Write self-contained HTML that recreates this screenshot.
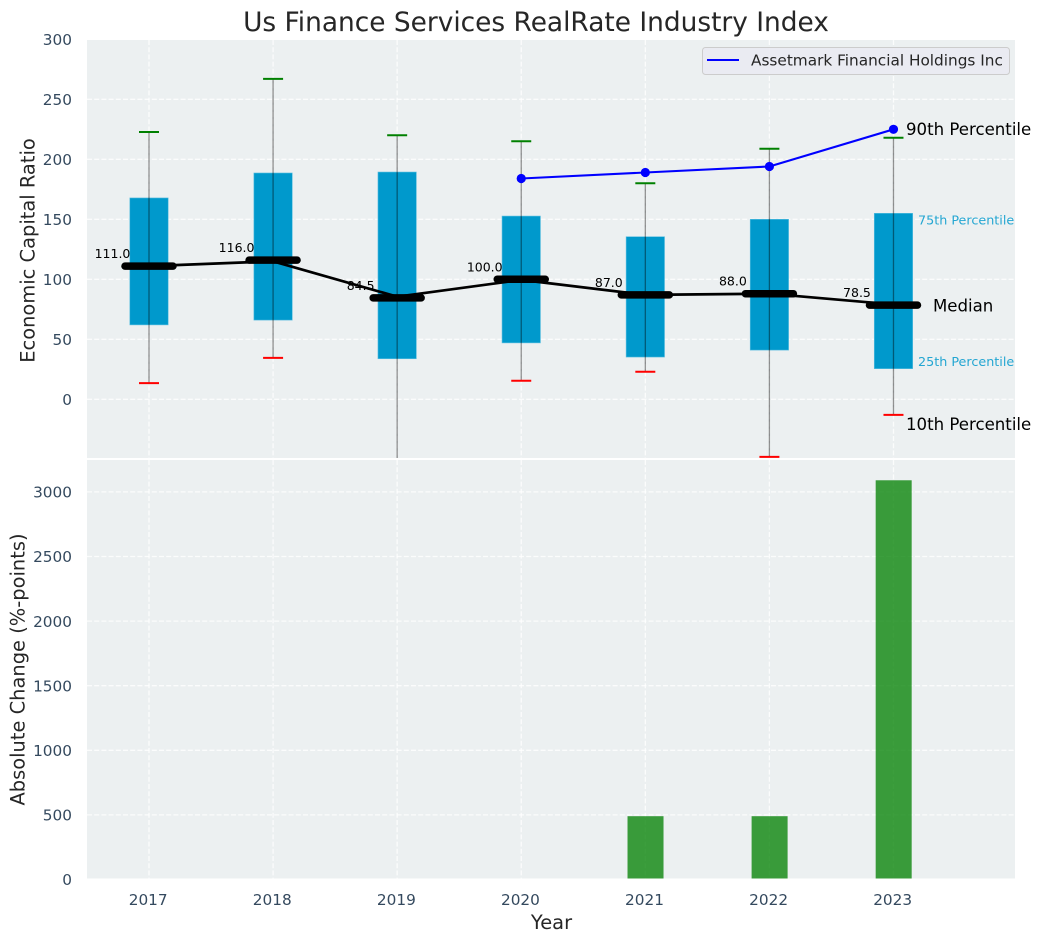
<!DOCTYPE html>
<html lang="en">
<head>
<meta charset="utf-8">
<title>Us Finance Services RealRate Industry Index</title>
<style>
html,body{margin:0;padding:0;background:#fff;width:1041px;height:942px;overflow:hidden}
svg{display:block}
text{font-family:"DejaVu Sans","Liberation Sans",sans-serif}
</style>
</head>
<body>
<svg id="chart" xmlns="http://www.w3.org/2000/svg" width="1041" height="942" viewBox="0 0 1041 942">
  <defs>
    <clipPath id="clip-top"><rect x="87" y="40" width="928" height="418"/></clipPath>
    <clipPath id="clip-bottom"><rect x="87" y="460" width="928" height="418.5"/></clipPath>
  </defs>
  <rect x="87" y="40" width="928" height="418" fill="#ecf0f1"/>
  <rect x="87" y="460" width="928" height="418.5" fill="#ecf0f1"/>
  <g id="top-grid" clip-path="url(#clip-top)"></g>
  <g id="bottom-grid" clip-path="url(#clip-bottom)"></g>
  <g id="bars" clip-path="url(#clip-bottom)"></g>
  <g id="boxes" clip-path="url(#clip-top)"></g>
  <g id="whiskers" clip-path="url(#clip-top)"></g>
  <g id="median-labels"></g>
  <g id="lines" clip-path="url(#clip-top)"></g>
  <g id="ticks"></g>
  <g id="notes"></g>

  <text x="536" y="31" text-anchor="middle" font-size="26.4px" fill="#262626">Us Finance Services RealRate Industry Index</text>
  <text transform="translate(34.5 250.5) rotate(-90)" text-anchor="middle" font-size="19.45px" fill="#262626">Economic Capital Ratio</text>
  <text transform="translate(24.5 669.5) rotate(-90)" text-anchor="middle" font-size="19.45px" fill="#262626">Absolute Change (%-points)</text>
  <text x="551.5" y="929" text-anchor="middle" font-size="19.45px" fill="#262626">Year</text>

  <g>
    <rect x="702.5" y="47.5" width="307" height="27" rx="3" fill="#eaeaf2" fill-opacity="0.9" stroke="#cccccc" stroke-width="1"/>
    <line x1="707" x2="739" y1="60" y2="60" stroke="#0000ff" stroke-width="2.1"/>
    <text x="751" y="65.5" font-size="15.3px" fill="#262626">Assetmark Financial Holdings Inc</text>
  </g>
</svg>
<script>
const years = [2017, 2018, 2019, 2020, 2021, 2022, 2023];
const p10 = [13.5, 34.5, -60, 15.5, 23, -48, -13];
const p25 = [62, 66, 33.8, 47, 35.2, 41, 25.5];
const medians = [111, 116, 84.5, 100, 87, 88, 78.5];
const medianLabels = ["111.0", "116.0", "84.5", "100.0", "87.0", "88.0", "78.5"];
const p75 = [167.8, 188.6, 189.4, 152.7, 135.5, 150, 155];
const p90 = [222.8, 267, 220, 215, 180, 208.8, 218];
const trendYears = [2017, 2018, 2019, 2020, 2021, 2022, 2023];
const trendValues = [111, 115, 85.5, 99.5, 87, 88, 79];
const companyYears = [2020, 2021, 2022, 2023];
const companyValues = [184, 189, 194, 225];
const changeYears = [2021, 2022, 2023];
const changeValues = [490, 490, 3090];
const topTicks = [0, 50, 100, 150, 200, 250, 300];
const bottomTicks = [0, 500, 1000, 1500, 2000, 2500, 3000];

const NS = 'http://www.w3.org/2000/svg';
const xScale = function (year) { return 149 + 124.08 * (year - 2017); };
const yTop = function (v) { return 399.3 - 1.2 * v; };
const yBottom = function (v) { return 879.5 - 0.1292 * v; };

function mk(tag, attrs, parentId) {
  const el = document.createElementNS(NS, tag);
  for (const k in attrs) el.setAttribute(k, attrs[k]);
  document.getElementById(parentId).appendChild(el);
  return el;
}

const GRID = { stroke: '#ffffff', 'stroke-width': 1.3, 'stroke-dasharray': '5 2.2', 'stroke-opacity': 0.8 };
const TICK_COLOR = '#34495e';
const TICK_SIZE = '15.3px';

years.forEach(function (y) {
  const gx = xScale(y);
  const a = mk('line', Object.assign({ x1: gx, x2: gx, y1: 40, y2: 458 }, GRID), 'top-grid');
  
  
  const b = mk('line', Object.assign({ x1: gx, x2: gx, y1: 460, y2: 878.5 }, GRID), 'bottom-grid');
  
  
  const t = mk('text', { x: gx - 0.8, y: 905, 'text-anchor': 'middle', 'font-size': TICK_SIZE, fill: TICK_COLOR }, 'ticks');
  
  
  t.textContent = String(y);
});

topTicks.forEach(function (v) {
  const gy = yTop(v);
  const l = mk('line', Object.assign({ x1: 87, x2: 1015, y1: gy, y2: gy }, GRID), 'top-grid');
  
  
  const t = mk('text', { x: 72, y: gy + 5.7, 'text-anchor': 'end', 'font-size': TICK_SIZE, fill: TICK_COLOR }, 'ticks');
  
  
  t.textContent = String(v);
});

bottomTicks.forEach(function (v) {
  const gy = yBottom(v);
  const l = mk('line', Object.assign({ x1: 87, x2: 1015, y1: gy, y2: gy }, GRID), 'bottom-grid');
  
  
  const t = mk('text', { x: 72, y: gy + 5.7, 'text-anchor': 'end', 'font-size': TICK_SIZE, fill: TICK_COLOR }, 'ticks');
  
  
  t.textContent = String(v);
});

changeYears.forEach(function (y, i) {
  const top = yBottom(changeValues[i]);
  const r = mk('rect', { x: xScale(y) - 17.8, y: top, width: 36, height: yBottom(0) - top, fill: '#008000', 'fill-opacity': 0.76 }, 'bars');
  
  
});

years.forEach(function (y, i) {
  const cx = xScale(y);
  const top = yTop(p75[i]);
  const box = mk('rect', { x: cx - 19.2, y: top, width: 38.4, height: yTop(p25[i]) - top, fill: '#0099cc', stroke: '#5cbfe0', 'stroke-width': 0.6 }, 'boxes');
  
  

  const w = mk('line', { x1: cx, x2: cx, y1: yTop(p90[i]), y2: yTop(p10[i]), stroke: '#000000', 'stroke-opacity': 0.42, 'stroke-width': 1.3 }, 'whiskers');
  
  
  const hi = mk('line', { x1: cx - 10, x2: cx + 10, y1: yTop(p90[i]), y2: yTop(p90[i]), stroke: '#008000', 'stroke-width': 2 }, 'whiskers');
  
  
  const lo = mk('line', { x1: cx - 10, x2: cx + 10, y1: yTop(p10[i]), y2: yTop(p10[i]), stroke: '#ff0000', 'stroke-width': 2 }, 'whiskers');
  
  

  const t = mk('text', { x: cx - 36.5, y: yTop(medians[i]) - 8, 'text-anchor': 'middle', 'font-size': '12.5px', fill: '#000000' }, 'median-labels');
  
  
  t.textContent = medianLabels[i];
});

const trend = mk('polyline', {
  points: trendYears.map(function (y, i) { return xScale(y) + ',' + yTop(trendValues[i]); }).join(' '),
  fill: 'none', stroke: '#000000', 'stroke-width': 2.7, 'stroke-linejoin': 'round'
}, 'lines');



years.forEach(function (y, i) {
  const cx = xScale(y);
  const m = mk('line', { x1: cx - 24, x2: cx + 24, y1: yTop(medians[i]), y2: yTop(medians[i]), stroke: '#000000', 'stroke-width': 7.5, 'stroke-linecap': 'round' }, 'lines');
  
  
});

const company = mk('polyline', {
  points: companyYears.map(function (y, i) { return xScale(y) + ',' + yTop(companyValues[i]); }).join(' '),
  fill: 'none', stroke: '#0000ff', 'stroke-width': 2.1, 'stroke-linejoin': 'round'
}, 'lines');



companyYears.forEach(function (y, i) {
  const c = mk('circle', { cx: xScale(y), cy: yTop(companyValues[i]), r: 4.6, fill: '#0000ff' }, 'lines');
  
  
});

const last = years.length - 1;
const lastX = xScale(years[last]);

const n90 = mk('text', { x: lastX + 12.5, y: yTop(companyValues[companyValues.length - 1]) + 5.8, 'font-size': '16.6px', fill: '#000000' }, 'notes');


n90.textContent = '90th Percentile';

const n75 = mk('text', { x: lastX + 24.5, y: yTop(p75[last]) + 11, 'font-size': '12.75px', fill: '#0099cc', 'fill-opacity': 0.85 }, 'notes');


n75.textContent = '75th Percentile';

const nMed = mk('text', { x: lastX + 39.5, y: yTop(medians[last]) + 6.5, 'font-size': '16.6px', fill: '#000000' }, 'notes');


nMed.textContent = 'Median';

const n25 = mk('text', { x: lastX + 24.5, y: yTop(p25[last]) - 2.7, 'font-size': '12.75px', fill: '#0099cc', 'fill-opacity': 0.85 }, 'notes');


n25.textContent = '25th Percentile';

const n10 = mk('text', { x: lastX + 12.5, y: yTop(p10[last]) + 15.3, 'font-size': '16.6px', fill: '#000000' }, 'notes');


n10.textContent = '10th Percentile';
</script>
</body>
</html>
